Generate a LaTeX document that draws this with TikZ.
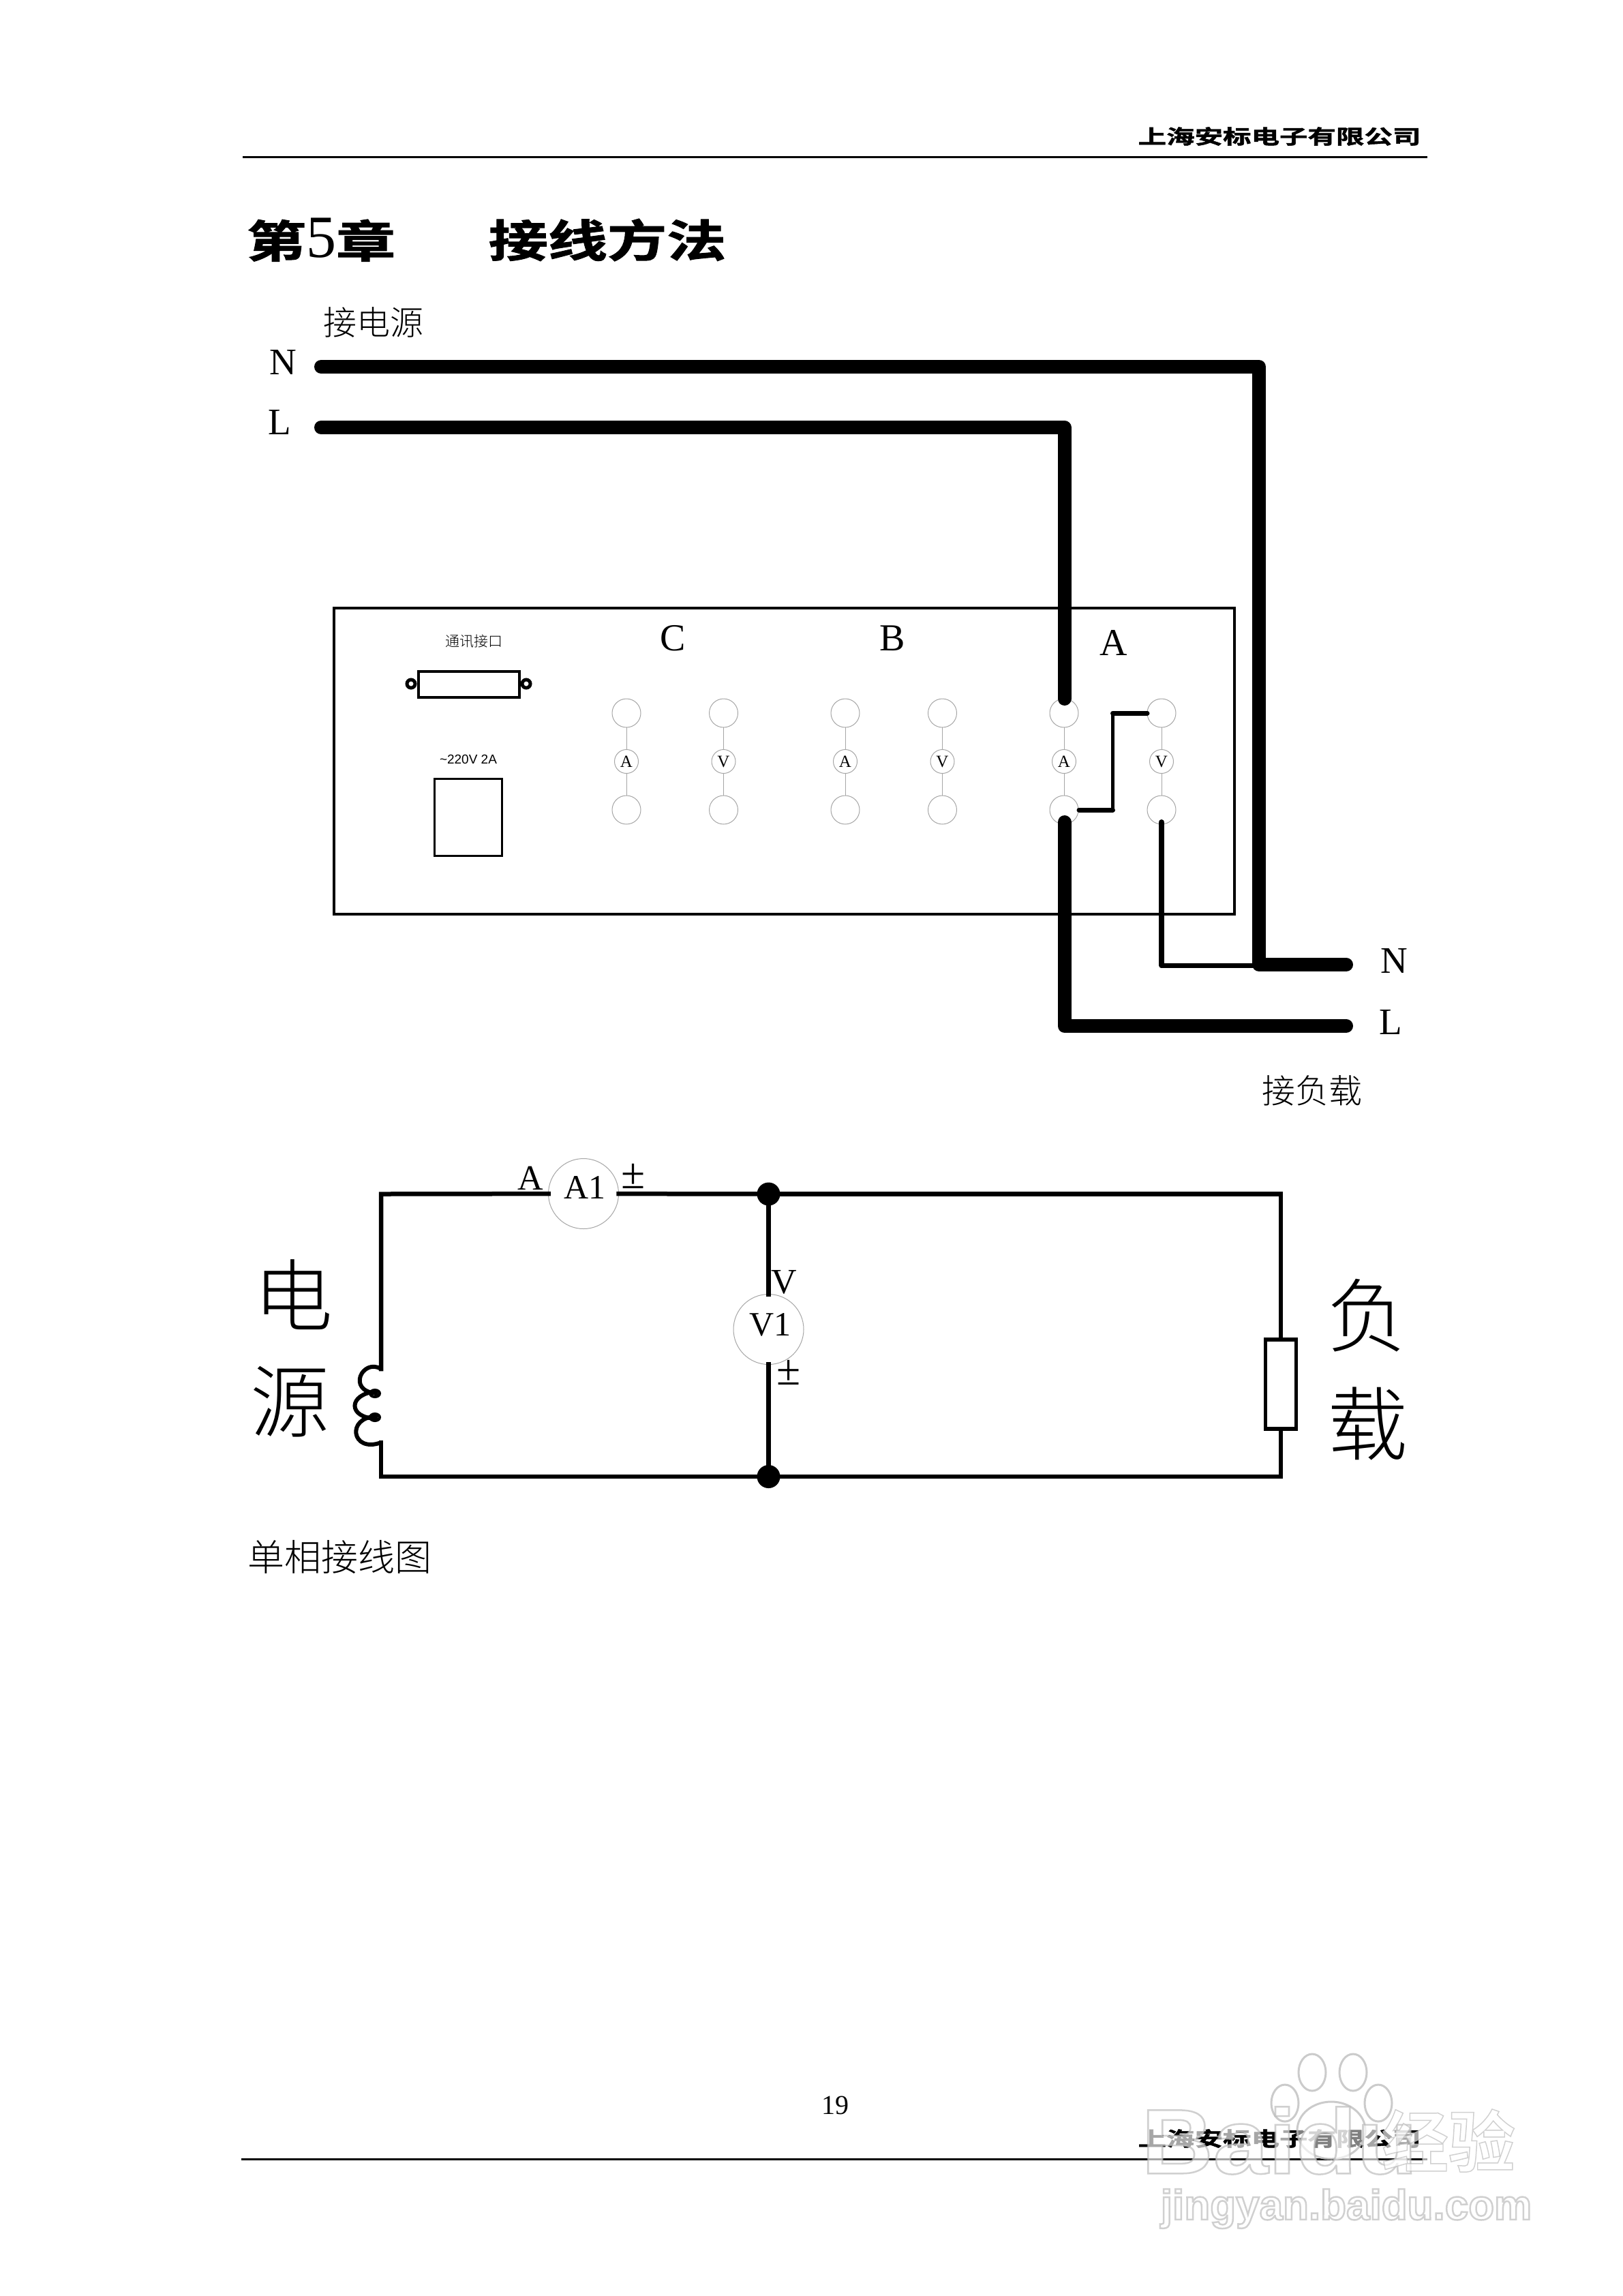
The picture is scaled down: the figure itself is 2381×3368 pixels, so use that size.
\documentclass[tikz,border=0pt]{standalone}
\usepackage{graphicx}
\usepackage{fontspec}
\setmainfont{Liberation Serif}
\newfontfamily\cjk{Noto Sans CJK SC Light}
\newfontfamily\cjkb[FakeBold=1.5]{Noto Sans CJK SC Bold}
\newfontfamily\sanslat{Liberation Sans}
\newcommand{\fsz}[1]{\fontsize{#1}{#1}\selectfont}
\newcommand{\hollow}[1]{\special{pdf:code q 2 Tr 2.5 w 0.72 0.72 0.72 RG}#1\special{pdf:code Q}}
\tikzset{
  lbl/.style={inner sep=0pt,outer sep=0pt,text=black},
  bigwire/.style={draw=black,line width=20pt,line cap=round,line join=round},
  midwire/.style={draw=black,line width=7pt,line cap=round,line join=miter},
  circwire/.style={draw=black,line width=6.5pt,line cap=rect,line join=miter},
  thin link/.style={draw=black!35,line width=1pt},
  term/.style={circle,draw=black!35,line width=1pt,fill=white,minimum size=42pt,inner sep=0pt,outer sep=0pt},
  meter/.style={circle,draw=black!35,line width=1pt,fill=white,minimum size=35pt,inner sep=0pt,outer sep=0pt,font=\fsz{25}},
  bigmeter/.style={circle,draw=black!35,line width=1pt,fill=white,minimum size=103pt,inner sep=0pt,outer sep=0pt},
  blackbox/.style={rectangle,draw=black,fill=white,inner sep=0pt,outer sep=0pt},
  dotj/.style={circle,fill=black,minimum size=34pt,inner sep=0pt,outer sep=0pt},
  ear/.style={circle,draw=black,line width=5pt,fill=white,minimum size=12pt,inner sep=0pt,outer sep=0pt},
  rule/.style={draw=black,line width=3pt},
  wm/.style={lbl,text=white,text opacity=0.65},
  paw/.style={draw=black!25,fill=white,fill opacity=0.5,line width=3pt,draw opacity=0.8},
}
\begin{document}
\begin{tikzpicture}[x=1pt,y=-1pt]
\useasboundingbox (0,0) rectangle (2381,3368);
\fill[white] (0,0) rectangle (2381,3368);

% header and title
\coordinate (hl) at (356,230); \coordinate (hr) at (2094,230);
\draw[rule] (hl) -- (hr);
\node[lbl] (hdr) at (1877,200) {\scalebox{1.43}[1]{\cjkb\fsz{29}上海安标电子有限公司}};
\node[lbl] (chap) at (471,352) {\scalebox{1.34}[1]{\cjkb\fsz{65}第}{\fsz{88}5}\scalebox{1.34}[1]{\cjkb\fsz{65}章}};
\node[lbl] (chapt) at (891,352) {\scalebox{1.34}[1]{\cjkb\fsz{65}接线方法}};

% labels of the wiring picture
\node[lbl] (src) at (548,473) {\cjk\fsz{49}接电源};
\node[lbl] (Ntop) at (415,531) {\fsz{55}N};
\node[lbl] (Ltop) at (410,619) {\fsz{55}L};
\node[lbl] (Nbot) at (2045,1409) {\fsz{55}N};
\node[lbl] (Lbot) at (2040,1499) {\fsz{55}L};
\node[lbl] (load) at (1925,1600) {\cjk\fsz{49}接负载};

% panel
\node[blackbox,line width=3.5pt,minimum width=1321pt,minimum height=449pt] (panel) at (1150.5,1116.5) {};
\node[lbl] (com) at (695,941) {\cjk\fsz{21}通讯接口};
\node[blackbox,line width=4pt,minimum width=148pt,minimum height=38pt] (db) at (688,1004) {};
\node[ear] (earl) at (603,1003) {};
\node[ear] (earr) at (772,1003) {};
\node[lbl] (pwr) at (687,1114) {\sanslat\fsz{19}\textasciitilde 220V 2A};
\node[blackbox,line width=3.5pt,minimum width=99pt,minimum height=113pt] (sw) at (687,1199) {};

\node[lbl] (phC) at (987,936) {\fsz{56}C};
\node[lbl] (phB) at (1309,936) {\fsz{56}B};
\node[lbl] (phA) at (1634,943) {\fsz{56}A};

% terminals
\foreach \n/\x/\m in {ca/919/A,cv/1061.5/V,ba/1240/A,bv/1382.5/V,aa/1561/A,av/1704/V}{
  \node[term] (\n t) at (\x,1046) {};
  \node[term] (\n b) at (\x,1188) {};
  \node[meter] (\n m) at (\x,1117) {\m};
  \draw[thin link] (\n t) -- (\n m);
  \draw[thin link] (\n m) -- (\n b);
}

% wires
\coordinate (Ns) at (471,538);
\coordinate (Ne) at (1975,1415);
\coordinate (Ls) at (471,627);
\coordinate (Lend) at (1561.5,1025);
\coordinate (Lout) at (1561.5,1206);
\coordinate (Le) at (1975,1505);
\draw[bigwire] (Ns) -| (1847,1415) -- (Ne);
\draw[bigwire] (Ls) -| (Lend);
\draw[bigwire] (Lout) |- (Le);
\coordinate (j1) at (1583,1188);
\coordinate (j2) at (1632.5,1188);
\coordinate (j3) at (1632.5,1046);
\coordinate (j4) at (1683,1046);
\draw[midwire] (j1) -- (j2);
\draw[midwire] (j3) -- (j4);
\draw[draw=black,line width=5pt] (j2) -- (j3);
\coordinate (v1) at (1704,1206);
\coordinate (v2) at (1704,1416);
\coordinate (v3) at (1840,1416);
\draw[midwire,line width=8pt] (v1) -- (v2);
\draw[midwire] (v2) -- (v3);

% single-phase schematic
\coordinate (tl) at (559,1751.5);
\coordinate (tr) at (1879,1751.5);
\coordinate (bl) at (559,2166);
\coordinate (br) at (1879,2166);
\coordinate (ct) at (559,2008);
\coordinate (cb) at (559,2116);
\node[bigmeter] (A1) at (856,1751) {};
\node[lbl] at (858,1742) {\fsz{50}A1};
\node[dotj] (d1) at (1127.5,1751.5) {};
\node[dotj] (d2) at (1127.5,2166) {};
\node[lbl] (pmB) at (1157,2013) {\fsz{64}±};
\node[bigmeter] (V1) at (1127.5,1950) {};
\node[lbl] at (1130,1943) {\fsz{50}V1};
\node[blackbox,line width=5.5pt,minimum width=45pt,minimum height=131pt] (R) at (1879,2030.5) {};
\draw[circwire] (ct) -- (tl) -- (A1);
\draw[circwire] (A1) -- (d1);
\draw[circwire] (d1) -- (tr) -- (R);
\draw[circwire] (R) -- (br) -- (bl) -- (cb);
\draw[circwire] (d1) -- (V1);
\draw[circwire] (V1) -- (d2);
\draw[draw=black,line width=6pt,line cap=round] (559,2008) .. controls (532,1992) and (508,2040) .. (552,2044);
\draw[draw=black,line width=6pt,line cap=round] (552,2041) .. controls (510,2045) and (510,2080) .. (552,2081);
\draw[draw=black,line width=6pt,line cap=round] (552,2078) .. controls (508,2078) and (515,2132) .. (559,2116);
\draw[draw=black,line width=4pt] (550,2044) ellipse (7 and 5);
\draw[draw=black,line width=4pt] (550,2079) ellipse (7 and 5);

\node[lbl] (lA) at (778,1728) {\fsz{52}A};
\node[lbl] (pmA) at (929,1725) {\fsz{64}±};
\node[lbl] (lV) at (1150,1881) {\fsz{52}V};
\node[lbl] (dy1) at (430,1899) {\cjk\fsz{116}电};
\node[lbl] (dy2) at (425,2056) {\cjk\fsz{116}源};
\node[lbl] (fz1) at (2005,1930) {\cjk\fsz{118}负};
\node[lbl] (fz2) at (2006,2088) {\cjk\fsz{118}载};
\node[lbl] (cap) at (498,2284) {\cjk\fsz{54}单相接线图};

% footer
\node[lbl] (pg) at (1225,3088) {\fsz{40}19};
\node[lbl] (ftr) at (1877,3137) {\scalebox{1.43}[1]{\cjkb\fsz{29}上海安标电子有限公司}};
\coordinate (fl) at (354,3167); \coordinate (fr) at (2094,3167);
\draw[rule] (fl) -- (fr);

% watermark
\draw[paw] (1925,3040) ellipse (20 and 27);
\draw[paw] (1985,3040) ellipse (20 and 27);
\draw[paw] (1885,3085) ellipse (20 and 27);
\draw[paw] (2022,3085) ellipse (20 and 27);
\draw[paw] (1953,3125) ellipse (50 and 42);
\node[wm] (wm1) at (1877,3140) {\scalebox{1.08}[1]{\hollow{\sanslat\bfseries\fsz{135}Baidu}}};
\node[wm] (wm2) at (2125,3140) {\hollow{\cjkb\fsz{98}经验}};
\node[wm] (wm3) at (1975,3240) {\hollow{\sanslat\bfseries\fsz{62}jingyan.baidu.com}};
\end{tikzpicture}
\end{document}
